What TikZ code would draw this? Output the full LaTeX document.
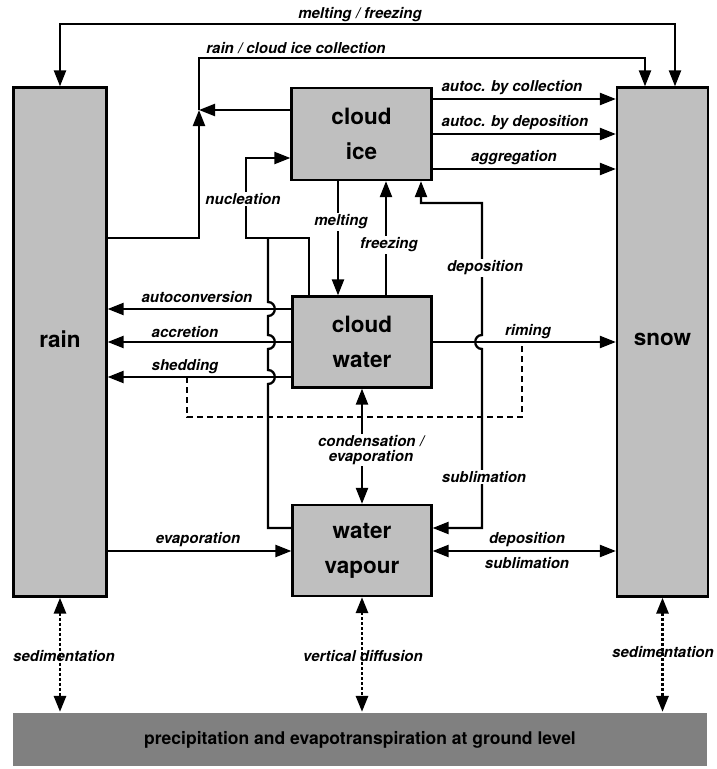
\documentclass[tikz,border=0pt]{standalone}
\usepackage{fontspec}
\setmainfont{TeX Gyre Heros}
\usetikzlibrary{arrows.meta,calc}
\definecolor{boxgray}{RGB}{191,191,191}
\definecolor{groundgray}{RGB}{128,128,128}
\tikzset{
  >={Triangle[length=16pt,width=12pt]},
  every path/.style={line width=2.3pt},
  box/.style={draw, line width=2.3pt, fill=boxgray, inner sep=0pt, align=center,
    font=\fontsize{22.5}{35}\selectfont\bfseries},
  lab/.style={font=\fontsize{15}{15}\selectfont\bfseries\itshape, inner sep=1.5pt, align=center},
  labw/.style={lab, fill=white},
  dotline/.style={line width=2.8pt, dash pattern=on 3pt off 2pt, <->},
  dashline/.style={line width=2.6pt, dash pattern=on 6pt off 4pt},
}
\begin{document}
\begin{tikzpicture}[x=1pt,y=-1pt]
\useasboundingbox (0,0) rectangle (716,769);

% boxes
\node[box, minimum width=93pt, minimum height=509pt] (rain) at (60,342) {\raisebox{6pt}{rain}};
\node[box, minimum width=91pt, minimum height=509pt] (snow) at (662.5,342) {\raisebox{6pt}{snow}};
\node[box, minimum width=140pt, minimum height=92pt] (ice) at (361.5,134) {cloud\\ice};
\node[box, minimum width=139pt, minimum height=91pt] (water) at (362,342) {cloud\\water};
\node[box, minimum width=139pt, minimum height=91pt] (vapour) at (362,550.5) {water\\vapour};
\node[fill=groundgray, minimum width=694pt, minimum height=53pt, inner sep=0pt,
      font=\fontsize{17.5}{20}\selectfont\bfseries] (ground) at (360,739.5)
      {\raisebox{-2pt}{precipitation and evapotranspiration at ground level}};

% melting / freezing
\draw[<->] (rain.north) |- (360,24) -| ($(snow.north)+(12.5,0)$);
\node[lab] (lmf) at (360,15) {melting / freezing};

% rain / cloud ice collection
\coordinate (meet) at (199,110);
\draw[->] (rain.east |- 0,238) -| (meet);
\draw[->] (ice.west |- meet) -- (meet);
\draw[->] (meet) |- (500,58) -| ($(snow.north)+(-17.5,0)$);
\node[lab] (lrc) at (296,48) {rain / cloud ice collection};

% cloud ice to snow
\draw[->] (ice.east |- 0,99) -- (snow.west |- 0,99);
\draw[->] (ice.east |- 0,134) -- (snow.west |- 0,134);
\draw[->] (ice.east |- 0,169) -- (snow.west |- 0,169);
\node[lab] (lac) at (512,88) {autoc. by collection};
\node[lab] (lad) at (515,123) {autoc. by deposition};
\node[lab] (lag) at (514,158) {aggregation};

% nucleation
\draw[->] (water.north -| 309,0) |- (246,238) |- (ice.west |- 0,158);
\draw (268,238) -- (268,302)
  .. controls (277,302) and (277,316) .. (268,316) -- (268,335)
  .. controls (277,335) and (277,349) .. (268,349) -- (268,370)
  .. controls (277,370) and (277,384) .. (268,384) -- (268,528) -- (vapour.west |- 0,528);
\node[labw] (lnu) at (243,199) {nucleation};

% melting, freezing
\draw[->] (ice.south -| 338,0) -- (water.north -| 338,0);
\draw[->] (water.north -| 386,0) -- (ice.south -| 386,0);
\node[labw] (lme) at (341,222) {melting};
\node[labw] (lfr) at (389,245) {freezing};

% deposition / sublimation (ice <-> vapour)
\draw[<->] (ice.south -| 421,0) -- (421,203) -- (482,203) -- (482,335)
  .. controls (473,335) and (473,349) .. (482,349) -- (482,528) -- (vapour.east |- 0,528);
\node[labw] (ldp) at (485,268) {deposition};
\node[labw] (lsb) at (484,477) {sublimation};

% cloud water to rain
\draw[->] (water.west |- 0,309) -- (rain.east |- 0,309);
\draw[->] (water.west |- 0,342) -- (rain.east |- 0,342);
\draw[->] (water.west |- 0,377) -- (rain.east |- 0,377);
\node[lab] (lau) at (197,297) {autoconversion};
\node[lab] (lacc) at (185,332) {accretion};
\node[lab] (lsh) at (185,367) {shedding};

% riming
\draw[->] (water.east) -- (snow.west |- water.east);
\node[lab] (lri) at (528,332) {riming};

% shedding - riming dashed
\coordinate (shedpt) at (187,377);
\coordinate (rimpt) at (522,342);
\draw[dashline] (shedpt) |- (rimpt |- 0,417) -- (rimpt);

% condensation / evaporation
\draw[<->] (water.south) -- (vapour.north);
\node[labw, inner sep=1pt] (lce) at (371,450) {condensation /\\evaporation};

% evaporation rain -> vapour
\draw[->] (rain.east |- 0,551) -- (vapour.west |- 0,551);
\node[lab] (lev) at (198,540) {evaporation};

% vapour <-> snow
\draw[<->] (vapour.east |- 0,551) -- (snow.west |- 0,551);
\node[lab] (ld2) at (527,540) {deposition};
\node[lab] (ls2) at (527,563) {sublimation};

% bottom
\draw[dotline] (rain.south) -- (ground.north -| rain.south);
\draw[dotline] (vapour.south) -- (ground.north -| vapour.south);
\draw[dotline] (snow.south) -- (ground.north -| snow.south);
\node[lab] (lse1) at (64,656) {sedimentation};
\node[lab] (lvd) at (363,656) {vertical diffusion};
\node[lab] (lse2) at (663,652) {sedimentation};
\end{tikzpicture}
\end{document}
